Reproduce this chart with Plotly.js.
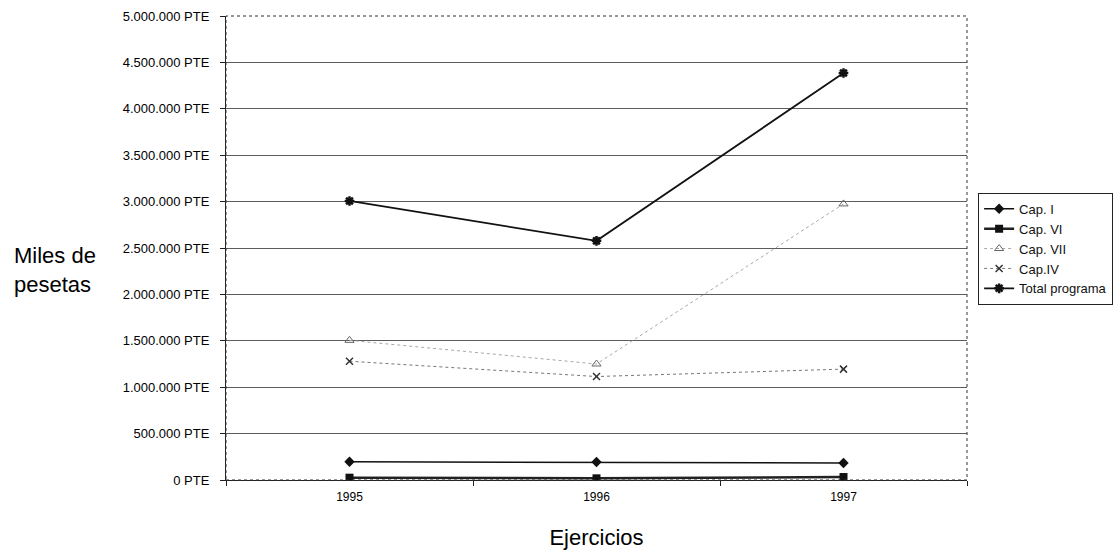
<!DOCTYPE html>
<html>
<head>
<meta charset="utf-8">
<script src="https://cdn.plot.ly/plotly-3.0.1.min.js"></script>
<style>
  html, body { margin: 0; padding: 0; background: #ffffff; }
  #chart { width: 1118px; height: 550px; }
</style>
</head>
<body>
<div id="chart"></div>
<script>
// Gasto por capítulos del programa, en miles de pesetas
const ejercicios = ['1995', '1996', '1997'];
const capI = [197000, 194000, 183000];
const capVI = [25000, 18000, 32000];
const capVII = [1505000, 1250000, 2975000];
const capIV = [1280000, 1115000, 1195000];
const totalPrograma = [3007000, 2577000, 4385000];

const seriesNames = ['Cap. I', 'Cap. VI', 'Cap. VII', 'Cap.IV', 'Total programa'];

const traces = [
  {
    x: ejercicios, y: capI, name: seriesNames[0], type: 'scatter', mode: 'lines+markers',
    line: { color: '#111111', width: 1.5 },
    marker: { symbol: 'diamond', size: 8, color: '#111111' }
  },
  {
    x: ejercicios, y: capVI, name: seriesNames[1], type: 'scatter', mode: 'lines+markers',
    line: { color: '#222222', width: 2.5 },
    marker: { symbol: 'square', size: 8, color: '#111111' }
  },
  {
    x: ejercicios, y: capVII, name: seriesNames[2], type: 'scatter', mode: 'lines+markers',
    line: { color: '#a8a8a8', width: 1, dash: 'dot' },
    marker: { symbol: 'triangle-up-open', size: 8, color: '#666666', line: { width: 1 } }
  },
  {
    x: ejercicios, y: capIV, name: seriesNames[3], type: 'scatter', mode: 'lines+markers',
    line: { color: '#777777', width: 1, dash: 'dot' },
    marker: { symbol: 'x-thin-open', size: 7, color: '#333333', line: { width: 1.5 } }
  },
  {
    x: ejercicios, y: totalPrograma, name: seriesNames[4], type: 'scatter', mode: 'lines+markers',
    line: { color: '#111111', width: 1.8 },
    marker: { symbol: 'asterisk-open', size: 8, color: '#111111', line: { width: 2.5 } }
  }
];

const layout = {
  width: 1118,
  height: 550,
  paper_bgcolor: '#ffffff',
  plot_bgcolor: '#ffffff',
  separators: ',.',
  margin: { l: 226, r: 151, t: 16, b: 70, autoexpand: false },
  font: { family: 'Liberation Sans, Arial, sans-serif', color: '#111111', size: 13 },
  showlegend: true,
  legend: {
    x: 1.015, y: 0.619, xanchor: 'left', yanchor: 'top',
    bordercolor: '#222222', borderwidth: 1, bgcolor: '#ffffff',
    font: { size: 13, color: '#111111' },
    tracegroupgap: 0
  },
  xaxis: {
    type: 'category',
    range: [-0.5, 2.5],
    tickson: 'boundaries',
    ticks: 'outside', ticklen: 5, tickcolor: '#222222',
    ticklabelstandoff: 6,
    showgrid: false,
    showline: true, linecolor: '#222222', linewidth: 1,
    tickfont: { size: 12, color: '#000000' },
    title: { text: 'Ejercicios', font: { size: 22, color: '#000000' }, standoff: 26 },
    zeroline: false
  },
  yaxis: {
    range: [0, 5000000],
    dtick: 500000,
    tickformat: ',.0f',
    ticksuffix: ' PTE',
    ticks: 'outside', ticklen: 5, tickcolor: '#222222',
    ticklabelstandoff: 8,
    showgrid: true, gridcolor: '#5c5c5c', gridwidth: 1,
    showline: true, linecolor: '#222222', linewidth: 1,
    tickfont: { size: 13, color: '#000000' },
    zeroline: false
  },
  shapes: [
    {
      type: 'rect', xref: 'paper', yref: 'paper', x0: 0, x1: 1, y0: 0, y1: 1,
      line: { color: '#333333', width: 1, dash: 'dot' }
    }
  ],
  annotations: [
    {
      text: 'Miles de<br>pesetas', xref: 'paper', yref: 'paper',
      x: -0.231, y: 0.4535, xanchor: 'center', yanchor: 'middle',
      showarrow: false, align: 'left',
      font: { size: 22, color: '#000000' }
    }
  ]
};

Plotly.newPlot('chart', traces, layout, { displayModeBar: false, staticPlot: true });
</script>
</body>
</html>
